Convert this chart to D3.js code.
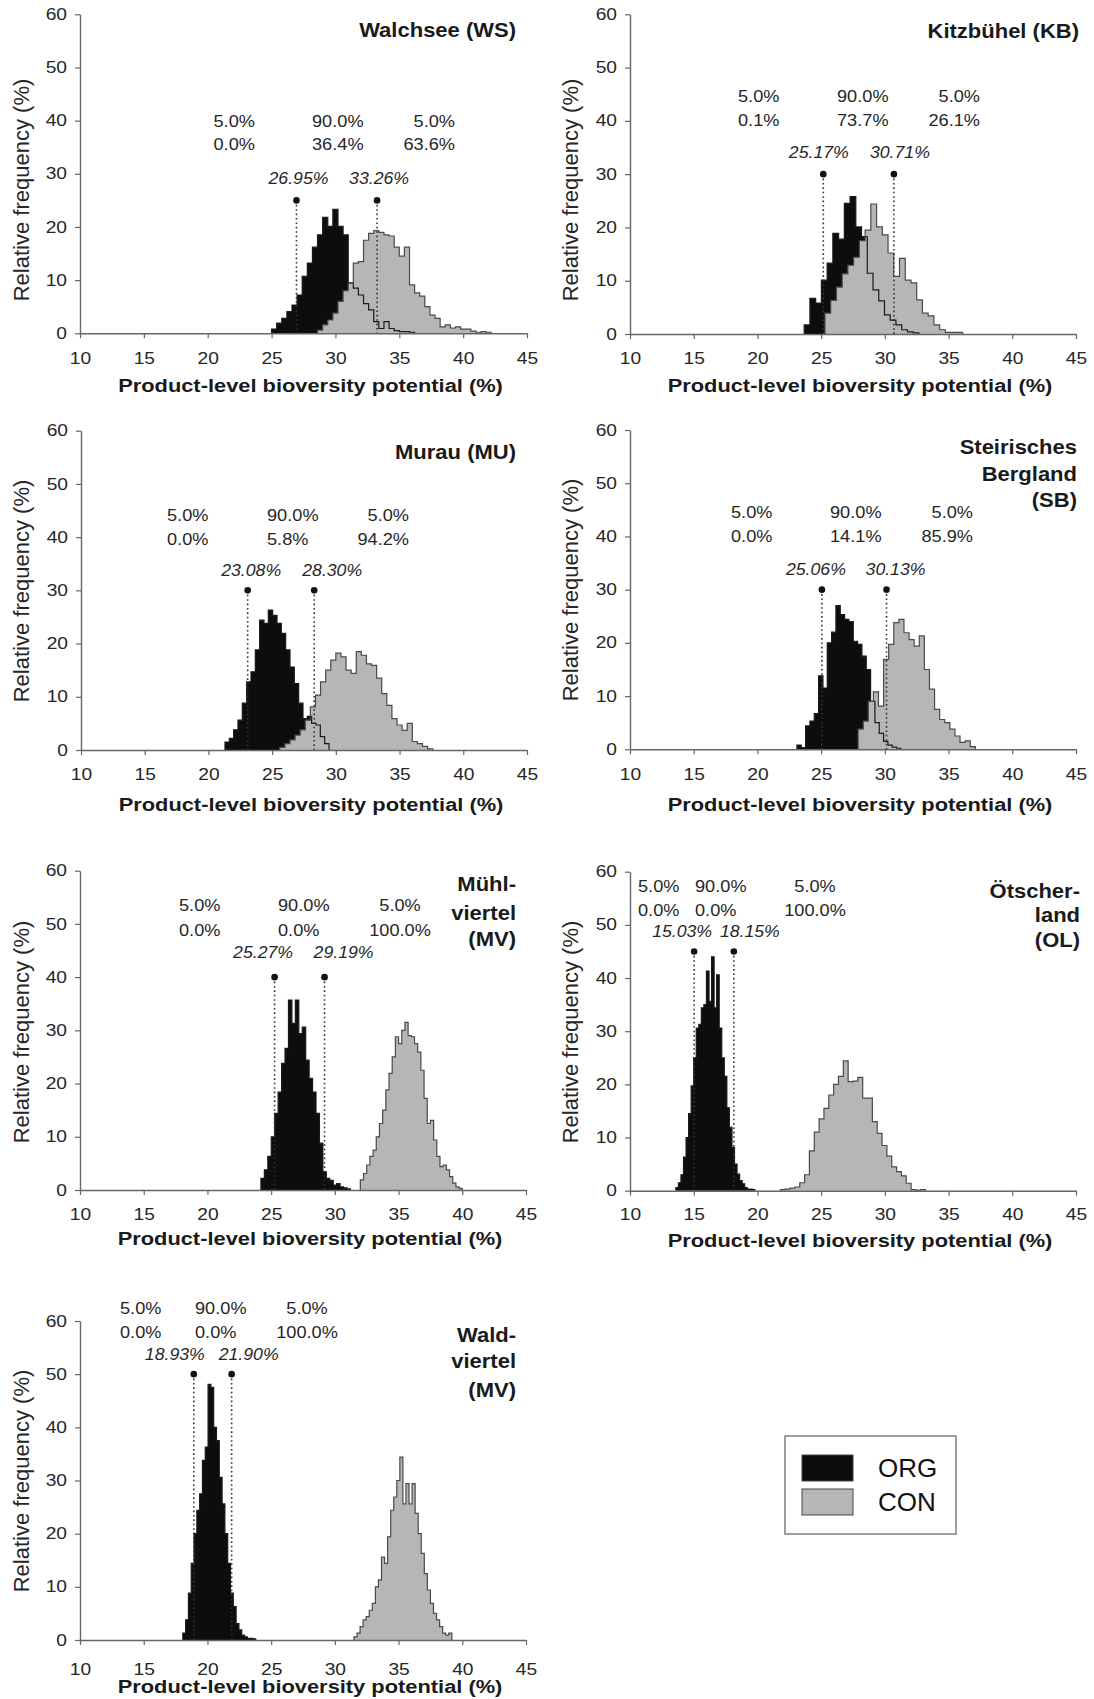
<!DOCTYPE html>
<html><head><meta charset="utf-8">
<script src="https://cdn.jsdelivr.net/npm/d3@7"></script>
<style>body{margin:0;background:#fff}svg{display:block}</style>
</head><body>
<svg id="c" width="1094" height="1699"></svg>
<script>
// ---------------- DATA ----------------
const regionNames = [["Walchsee (WS)"],["Kitzbühel (KB)"],["Murau (MU)"],["Steirisches","Bergland","(SB)"],["Mühl-","viertel","(MV)"],["Ötscher-","land","(OL)"],["Wald-","viertel","(MV)"]];
const seriesNames = ["ORG","CON"];
const xTicks = [10,15,20,25,30,35,40,45];
const yTicks = [0,10,20,30,40,50,60];
const xTitle = "Product-level bioversity potential (%)";
const yTitle = "Relative frequency (%)";
const ciLow  = [26.95,25.17,23.08,25.06,25.27,15.03,18.93];
const ciHigh = [33.26,30.71,28.30,30.13,29.19,18.15,21.90];
const ciLowLabel  = ["26.95%","25.17%","23.08%","25.06%","25.27%","15.03%","18.93%"];
const ciHighLabel = ["33.26%","30.71%","28.30%","30.13%","29.19%","18.15%","21.90%"];
const orgShares = ["5.0%","90.0%","5.0%"];
const conShares = [["0.0%","36.4%","63.6%"],["0.1%","73.7%","26.1%"],["0.0%","5.8%","94.2%"],["0.0%","14.1%","85.9%"],["0.0%","0.0%","100.0%"],["0.0%","0.0%","100.0%"],["0.0%","0.0%","100.0%"]];

const orgBinWidth = [0.4,0.45,0.34,0.34,0.27,0.2,0.22];
const conBinWidth = [0.4,0.45,0.4,0.4,0.25,0.38,0.24];
const orgStart = [25.0,23.67,21.3,23.1,24.2,13.6,18.07];
const conStart = [28.6,25.3,25.6,27.9,32.0,21.8,31.5];
const orgFreq = [
 [0.8,1.9,2.8,4.1,5.3,7.2,10.7,13.2,16.2,18.5,21.8,20.1,23.3,20.1,18.5,9.5,8.5,7.2,5.6,4.4,2.2,0.9,2.2,0.9,0.5,0.3,0.3,0.2],
 [1.7,6.7,5.8,10.1,13.3,18.9,17.8,24.5,25.8,20.1,18.3,11.4,8.3,6.2,3.6,2.6,1.7,0.8,0.4,0.2],
 [1.5,2.2,3.8,5.6,8.8,12.8,14.7,18.8,24.4,23.8,26.3,25.3,23.8,21.9,18.8,15.6,12.5,8.8,5.9,6.3,5,4.7,2.5,1.2],
 [0.8,0.3,4.4,5.3,6.7,13.8,11.5,20,22,27,25.3,24.4,24,20.3,19.7,17.5,15,9,5,3,1.5,0.8,0.4,0.2],
 [2.2,3.8,6.3,10,14.4,18.4,23.8,26.6,35.7,31.3,35.7,29.4,30.6,24.4,21,18.4,14.4,8.8,3.4,2.2,1.8,0.9,1.2,0.6,0.4,0.2],
 [0.6,1.5,3,6.3,10,14.5,19.7,25,30.6,31.3,34.4,35,41.3,35.6,44,34.4,40.6,30.6,25,21.5,15.6,11.9,8.1,5,3.1,1.9,1.3,0.6,0.3,0.3,0.2],
 [1.3,3.8,8.8,14.4,20,24.4,27.5,33.8,36.3,48.1,47.5,40,37.5,30.6,25.6,20,14.4,8.8,6.3,3.1,1.9,0.9,0.6,0.3,0.3,0.2]
];
const conFreq = [
 [0.6,1.6,2.5,3.8,6,8,9.5,13.2,13.5,17.5,18.8,19.3,19,18.5,18.3,16.2,14.5,16.2,9.1,7.6,7,5,3.4,2.8,1.2,1.6,1,1.2,0.8,0.8,0.4,0.2,0.3,0.2],
 [3.9,6.3,8.8,11.3,12.9,14.4,17.5,19.5,24.4,20.1,18.6,15.2,10.8,14.2,10.1,9.6,6.4,3.9,3.4,1.7,0.8,0.3,0.3,0.3],
 [0.5,1.2,1.9,2.8,3.8,5.6,8.1,10.3,12.8,15,16.9,18.2,17.5,15,14.4,18.5,17.8,16.2,15.9,13.5,10.6,8.4,5.9,4.7,3.7,5,1.6,1.2,0.7,0.2],
 [3.8,5.3,9,10.8,8.1,16.9,19.7,23.8,24.4,21.9,20.6,19.4,21.3,15,11.3,7.5,5.6,5,3.8,2.5,1.3,1.6,0.5],
 [1.9,3.1,4.7,6.3,7.5,10,12.5,15,18.8,21.9,25,28.8,27.5,30,31.5,29,28.8,27.5,25.9,22.5,17.2,12.5,13.1,9.4,6.3,4.4,4.7,3.8,2.5,1.3,0.6,0.3],
 [0.2,0.3,0.5,0.7,1.5,3,7.5,11,13.5,15.5,18,20,21.5,24.4,20.5,20.6,21.3,17.4,17.4,13,10.8,8.5,6.5,4.5,3.6,2.8,1.4,0.2,0.1,0.2],
 [0.6,1.3,2.5,3.8,4.4,5.6,6.9,10,11.3,15.6,14.4,19.4,24.4,26.9,30,34.4,25.6,29.4,25.6,29.4,23.8,20,16.3,12.5,9.4,6.9,5,3.8,2.5,1.3,0.9,1.3]
];

// ---------------- LAYOUT ----------------
const layout = [
 {l:80,r:527,t:14.3,b:333.3,tickOff:31,titleOff:59,yLabY:190,yLabX:28.5,nameR:516,nameY:[37],rowY:[127,150],colX:[213.5,312,455],a3:"end",lblDx:[2,2],lblDy:16,dotV:25},
 {l:630,r:1076,t:14.3,b:334,tickOff:30,titleOff:58,yLabY:190,yLabX:577.5,nameR:1079,nameY:[38],rowY:[102,126],colX:[738,837,980],a3:"end",lblDx:[-4.5,6],lblDy:16,dotV:30},
 {l:81,r:527,t:430.7,b:750,tickOff:30,titleOff:61,yLabY:591,yLabX:28.5,nameR:516,nameY:[459],rowY:[521,545],colX:[167,267,409],a3:"end",lblDx:[3.5,18],lblDy:14,dotV:30},
 {l:630,r:1076,t:430,b:749.3,tickOff:31,titleOff:62,yLabY:590,yLabX:577.5,nameR:1077,nameY:[454,481,507],rowY:[518,542],colX:[731,830,973],a3:"end",lblDx:[-6,9],lblDy:15,dotV:30},
 {l:80,r:526,t:870.7,b:1190,tickOff:30,titleOff:55,yLabY:1032,yLabX:28.5,nameR:516,nameY:[891,920,946],rowY:[911,936],colX:[179,278,400],a3:"middle",lblDx:[-11.5,19],lblDy:19,dotV:40},
 {l:630,r:1076,t:871.7,b:1190.7,tickOff:29,titleOff:56,yLabY:1032,yLabX:577.5,nameR:1080,nameY:[898,922,947],rowY:[892,916],colX:[638,695,815],a3:"middle",lblDx:[-12,16],lblDy:14,dotV:45},
 {l:80,r:526,t:1321,b:1640,tickOff:35,titleOff:53,yLabY:1481,yLabX:28.5,nameR:516,nameY:[1342,1368,1397],rowY:[1314,1338],colX:[120,195,307],a3:"middle",lblDx:[-19,17],lblDy:14,dotV:50}
];
const legendBox = {x:785,y:1436,w:171,h:98};

const FONT = "'Liberation Sans', Arial, Helvetica, sans-serif";
const TXT = "#262626";
const svg = d3.select("#c");

function label(g, x, y, s, o){
  return g.append("text")
    .attr("transform", `translate(${x},${y}) scale(${o.sx||1},1)`)
    .attr("text-anchor", o.anchor||"start")
    .attr("font-family", FONT)
    .attr("font-size", o.size)
    .attr("font-weight", o.weight||"normal")
    .attr("font-style", o.style||"normal")
    .attr("fill", o.fill||TXT)
    .text(s);
}
function binPoints(start, w, vals){
  return vals.map((v,i)=>[start+i*w, v]).concat([[start+vals.length*w, 0]]);
}

layout.forEach((L, p) => {
  const g = svg.append("g");
  const x = d3.scaleLinear().domain([10,45]).range([L.l, L.r]);
  const y = d3.scaleLinear().domain([0,60]).range([L.b, L.t]);

  const area = d3.area().curve(d3.curveStepAfter).x(d=>x(d[0])).y0(y(0)).y1(d=>y(d[1]));
  const line = d3.line().curve(d3.curveStepAfter).x(d=>x(d[0])).y(d=>y(d[1]));

  const orgPts = binPoints(orgStart[p], orgBinWidth[p], orgFreq[p]);
  const conPts = binPoints(conStart[p], conBinWidth[p], conFreq[p]);

  g.append("path").attr("d", area(orgPts)).attr("fill", "#0d0d0d");
  g.append("path").attr("d", area(conPts)).attr("fill", "#b6b6b6");
  g.append("path").attr("d", line([[orgStart[p],0]].concat(orgPts))).attr("fill","none").attr("stroke","#1a1a1a").attr("stroke-width",1.2);
  g.append("path").attr("d", line([[conStart[p],0]].concat(conPts))).attr("fill","none").attr("stroke","#4a4a4a").attr("stroke-width",1.2);

  // axes
  const gx = g.append("g").attr("transform",`translate(0,${L.b})`)
    .call(d3.axisBottom(x).tickValues(xTicks).tickSize(5).tickSizeOuter(0));
  const gy = g.append("g").attr("transform",`translate(${L.l},0)`)
    .call(d3.axisLeft(y).tickValues(yTicks).tickSize(5).tickSizeOuter(0));
  [gx,gy].forEach(a=>{
    a.select(".domain").attr("stroke","#666").attr("stroke-width",1.4);
    a.selectAll(".tick line").attr("stroke","#666").attr("stroke-width",1.2);
    a.selectAll(".tick text").attr("font-family",FONT).attr("font-size",16).attr("fill",TXT);
  });
  gx.selectAll(".tick text").attr("y",null).attr("dy",null)
    .attr("transform",`translate(0,${L.tickOff}) scale(1.2,1)`);
  gy.selectAll(".tick text").attr("x",null)
    .attr("transform",`translate(-13,0) scale(1.2,1)`);

  // axis titles
  label(g, (L.l+L.r)/2+7, L.b+L.titleOff, xTitle, {size:19, weight:"bold", anchor:"middle", sx:1.15, fill:"#1a1a1a"});
  g.append("text").attr("transform",`translate(${L.yLabX},${L.yLabY}) rotate(-90)`)
    .attr("text-anchor","middle").attr("font-family",FONT).attr("font-size",22).attr("fill",TXT).text(yTitle);

  // region name
  regionNames[p].forEach((s,i)=> label(g, L.nameR, L.nameY[i], s, {size:20, weight:"bold", anchor:"end", sx:1.1, fill:"#1a1a1a"}));

  // share annotations
  orgShares.forEach((s,i)=>{
    const anchor = i<2 ? "start" : L.a3;
    label(g, L.colX[i], L.rowY[0], s, {size:17, anchor, sx:1.07});
    label(g, L.colX[i], L.rowY[1], conShares[p][i], {size:17, anchor, sx:1.07});
  });

  // CI markers
  [[ciLow[p], ciLowLabel[p], L.lblDx[0]], [ciHigh[p], ciHighLabel[p], L.lblDx[1]]].forEach(([v,s,dx])=>{
    g.append("line").attr("x1",x(v)).attr("x2",x(v)).attr("y1",y(L.dotV)).attr("y2",y(0))
      .attr("stroke","#333").attr("stroke-width",1.6).attr("stroke-dasharray","1.6,2.8");
    g.append("circle").attr("cx",x(v)).attr("cy",y(L.dotV)).attr("r",3.3).attr("fill","#111");
    label(g, x(v)+dx, y(L.dotV)-L.lblDy, s, {size:17, style:"italic", anchor:"middle", sx:1.04});
  });
});

// legend
const lg = svg.append("g");
lg.append("rect").attr("x",legendBox.x).attr("y",legendBox.y).attr("width",legendBox.w).attr("height",legendBox.h)
  .attr("fill","#fff").attr("stroke","#777").attr("stroke-width",1.4);
const legendColors = ["#0d0d0d","#b6b6b6"];
seriesNames.forEach((s,i)=>{
  lg.append("rect").attr("x",legendBox.x+17).attr("y",legendBox.y+19+i*34).attr("width",51).attr("height",26)
    .attr("fill",legendColors[i]).attr("stroke","#444").attr("stroke-width",1);
  lg.append("text").attr("x",legendBox.x+93).attr("y",legendBox.y+41+i*34).attr("font-family",FONT)
    .attr("font-size",26).attr("fill","#111").text(s);
});
</script>
</body></html>
